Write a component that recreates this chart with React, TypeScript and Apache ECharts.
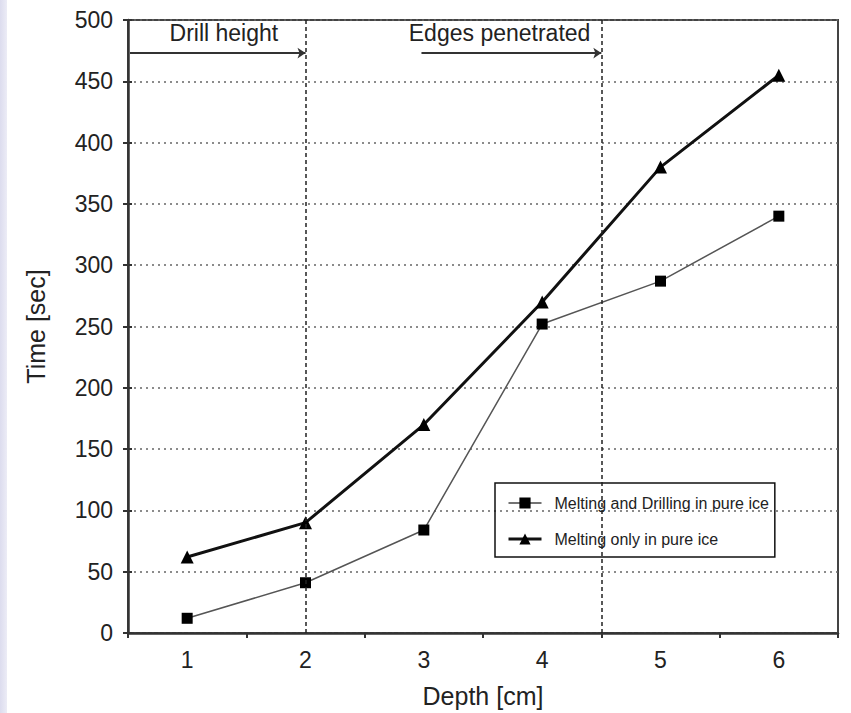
import React, { useEffect, useRef } from "react";
import * as echarts from "echarts";

const depthCategories = ["1", "2", "3", "4", "5", "6"];
const drillingTimes = [12, 41, 84, 252, 287, 340];
const meltingTimes = [62, 90, 170, 270, 380, 455];
const seriesNames = ["Melting and Drilling in pure ice", "Melting only in pure ice"];
const phaseLines = [2, 4.5];
const phaseArrows = [
  { from: 0.517, to: 2, y: 473 },
  { from: 2.98, to: 4.5, y: 473 },
];
const phaseLabels = [
  { text: "Drill height", x: 1.31, y: 489 },
  { text: "Edges penetrated", x: 3.64, y: 489 },
];

const FONT = "Liberation Sans, Arial, sans-serif";

export default function App() {
  const ref = useRef<HTMLDivElement>(null);
  useEffect(() => {
    if (!ref.current) return;
    const chart = echarts.init(ref.current, null, { renderer: "svg" });
    chart.setOption({
      animation: false,
      backgroundColor: "#ffffff",
      textStyle: { fontFamily: FONT },
      graphic: [
        {
          type: "rect",
          left: 0,
          top: 0,
          shape: { width: 7, height: 713 },
          style: {
            fill: new echarts.graphic.LinearGradient(0, 0, 1, 0, [
              { offset: 0, color: "#dcdcee" },
              { offset: 1, color: "#ececf6" },
            ]),
          },
          silent: true,
        },
      ],
      grid: {
        left: 128,
        right: 13,
        top: 20,
        bottom: 80,
        show: true,
        borderColor: "#444",
        borderWidth: 2,
        backgroundColor: "transparent",
      },
      legend: {
        orient: "vertical",
        left: 495,
        top: 483,
        data: [
          { name: seriesNames[0], lineStyle: { width: 1.5, color: "#444" } },
          { name: seriesNames[1], lineStyle: { width: 3, color: "#111" } },
        ],
        itemWidth: 33,
        itemHeight: 14,
        itemGap: 20,
        padding: [12, 6, 10, 12],
        borderColor: "#111",
        borderWidth: 1.5,
        textStyle: { fontSize: 16, color: "#222", fontFamily: FONT, padding: [0, 0, 0, 8] },
      },
      xAxis: [
        {
          type: "category",
          data: depthCategories,
          boundaryGap: true,
          name: "Depth [cm]",
          nameLocation: "middle",
          nameGap: 50,
          nameTextStyle: { fontSize: 25, color: "#222", fontFamily: FONT },
          axisLine: { lineStyle: { color: "#333", width: 2.5 } },
          axisTick: { show: true, length: 5, lineStyle: { color: "#333", width: 2 } },
          axisLabel: { fontSize: 23, color: "#222", margin: 15, fontFamily: FONT },
          splitLine: { show: false },
        },
        {
          type: "value",
          min: 0.5,
          max: 6.5,
          show: false,
        },
      ],
      yAxis: [
        {
          type: "value",
          min: 0,
          max: 500,
          interval: 50,
          position: "left",
          name: "Time [sec]",
          nameLocation: "middle",
          nameGap: 80,
          nameRotate: 90,
          nameTextStyle: { fontSize: 25, color: "#222", fontFamily: FONT },
          axisLine: { show: true, lineStyle: { color: "#333", width: 2.5 } },
          axisTick: { show: true, length: 5, lineStyle: { color: "#333", width: 2 } },
          axisLabel: { fontSize: 23, color: "#222", margin: 15, fontFamily: FONT },
          splitLine: { show: true, lineStyle: { color: "#666", width: 1.5, type: [2, 4] } },
        },
        {
          type: "value",
          min: 0,
          max: 500,
          interval: 50,
          position: "left",
          axisLine: { show: false },
          axisTick: { show: true, inside: true, length: 4, lineStyle: { color: "#333", width: 2 } },
          axisLabel: { show: false },
          splitLine: { show: false },
        },
      ],
      series: [
        {
          name: seriesNames[0],
          type: "line",
          xAxisIndex: 0,
          yAxisIndex: 0,
          data: drillingTimes,
          symbol: "rect",
          symbolSize: 11,
          lineStyle: { color: "#555", width: 1.5 },
          itemStyle: { color: "#000" },
          z: 3,
        },
        {
          name: seriesNames[1],
          type: "line",
          xAxisIndex: 0,
          yAxisIndex: 0,
          data: meltingTimes,
          symbol: "triangle",
          symbolSize: 13,
          lineStyle: { color: "#111", width: 3 },
          itemStyle: { color: "#000" },
          z: 4,
        },
        {
          name: "annotations",
          type: "line",
          xAxisIndex: 1,
          yAxisIndex: 0,
          data: [],
          silent: true,
          markLine: {
            silent: true,
            symbol: "none",
            label: { show: false },
            lineStyle: { color: "#222", width: 1.5, type: [4, 3] },
            data: phaseLines.map((x) => ({ xAxis: x })),
          },
          markPoint: {
            silent: true,
            symbol: "circle",
            symbolSize: 1,
            itemStyle: { color: "rgba(0,0,0,0)" },
            label: {
              show: true,
              position: "inside",
              fontSize: 23,
              color: "#222",
              fontFamily: FONT,
            },
            data: phaseLabels.map((p) => ({
              coord: [p.x, p.y],
              label: { formatter: p.text },
            })),
          },
        },
        {
          name: "arrows",
          type: "line",
          xAxisIndex: 1,
          yAxisIndex: 0,
          data: [],
          silent: true,
          markLine: {
            silent: true,
            symbol: ["none", "arrow"],
            symbolSize: 8,
            label: { show: false },
            lineStyle: { color: "#333", width: 2, type: "solid" },
            data: phaseArrows.map((a) => [
              { coord: [a.from, a.y] },
              { coord: [a.to, a.y] },
            ]),
          },
        },
      ],
    });
    return () => chart.dispose();
  }, []);
  return (
    <div
      ref={ref}
      style={{ position: "absolute", left: 0, top: 0, width: 851, height: 713 }}
    />
  );
}
